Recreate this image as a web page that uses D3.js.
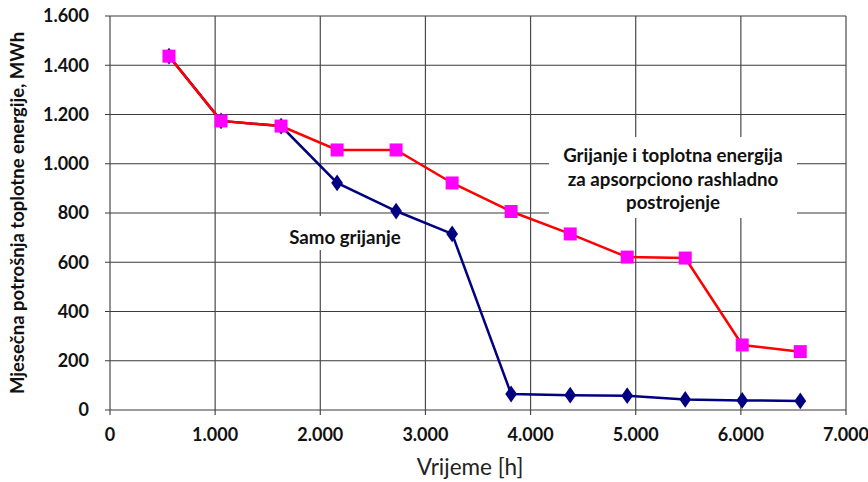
<!DOCTYPE html>
<html><head><meta charset="utf-8">
<script src="https://cdn.jsdelivr.net/npm/d3@7"></script>
<style>body{margin:0;background:#fff}svg{display:block}</style>
</head><body><svg id="c" width="868" height="482"></svg>
<script>
const hours = [561, 1056, 1627, 2160, 2721, 3254, 3815, 4377, 4919, 5471, 6013, 6565];
const heatingOnly = [1437, 1174, 1153, 922, 808, 715, 65, 60, 58, 43, 39, 37];
const heatingAndCooling = [1437, 1174, 1153, 1056, 1056, 922, 806, 715, 621, 617, 264, 237];
const xTicks = [0, 1000, 2000, 3000, 4000, 5000, 6000, 7000];
const yTicks = [0, 200, 400, 600, 800, 1000, 1200, 1400, 1600];
const labelHeating = ["Samo grijanje"];
const labelBoth = ["Grijanje i toplotna energija", "za apsorpciono rashladno", "postrojenje"];
const xTitle = "Vrijeme [h]";
const yTitle = "Mjesečna potrošnja toplotne energije, MWh";

const svg = d3.select("#c");
const L = 110, R = 846, T = 16, B = 410;
const x = d3.scaleLinear().domain([0, 7000]).range([L, R]);
const y = d3.scaleLinear().domain([0, 1600]).range([B, T]);
const fmt = d => d === 0 ? "0" : d3.format(",")(d).replace(/,/g, ".");
const font = "Lato, 'Open Sans', sans-serif";

// grid
const g = svg.append("g");
g.selectAll(".hg").data(yTicks).join("line")
  .attr("x1", L - 5).attr("x2", R).attr("y1", d => y(d)).attr("y2", d => y(d))
  .attr("stroke", "#3a3a3a").attr("stroke-width", 1.2);
g.selectAll(".vg").data(xTicks).join("line")
  .attr("y1", T).attr("y2", B + 5).attr("x1", d => x(d)).attr("x2", d => x(d))
  .attr("stroke", "#4a4a4a").attr("stroke-width", 1.2);

// tick labels
svg.append("g").selectAll("text").data(yTicks).join("text")
  .attr("x", L - 21).attr("y", d => y(d)).attr("dy", "0.36em")
  .attr("text-anchor", "end").attr("font-family", font).attr("font-weight", "bold")
  .attr("font-size", 18).attr("fill", "#111").text(fmt);
svg.append("g").selectAll("text").data(xTicks).join("text")
  .attr("x", d => x(d)).attr("y", B + 31)
  .attr("text-anchor", "middle").attr("font-family", font).attr("font-weight", "bold")
  .attr("font-size", 18).attr("fill", "#111").text(fmt);

// titles
svg.append("text").attr("x", 470).attr("y", 475).attr("text-anchor", "middle")
  .attr("font-family", font).attr("font-size", 22.5).attr("fill", "#222").text(xTitle);
svg.append("text").attr("transform", "translate(24,213) rotate(-90)").attr("text-anchor", "middle")
  .attr("font-family", font).attr("font-weight", "bold").attr("font-size", 18.5).attr("fill", "#111").text(yTitle);

// label boxes
svg.append("rect").attr("x", 549).attr("y", 137).attr("width", 248).attr("height", 81).attr("fill", "#fff");
svg.append("rect").attr("x", 272).attr("y", 216).attr("width", 146).attr("height", 34).attr("fill", "#fff");
svg.append("g").selectAll("text").data(labelBoth).join("text")
  .attr("x", 673).attr("y", (d, i) => 162 + i * 23.5).attr("text-anchor", "middle")
  .attr("font-family", font).attr("font-weight", "bold").attr("font-size", 18.7).attr("fill", "#111").text(d => d);
svg.append("text").attr("x", 345).attr("y", 244).attr("text-anchor", "middle")
  .attr("font-family", font).attr("font-weight", "bold").attr("font-size", 18.7).attr("fill", "#111").text(labelHeating[0]);

// series
const line = d3.line().x((d, i) => x(hours[i])).y(d => y(d));
svg.append("path").datum(heatingOnly).attr("d", line).attr("fill", "none")
  .attr("stroke", "#000080").attr("stroke-width", 2.5);
svg.append("g").selectAll("path").data(heatingOnly).join("path")
  .attr("d", d3.symbol(d3.symbolDiamond, 90)())
  .attr("transform", (d, i) => `translate(${x(hours[i])},${y(d)}) scale(1.15,0.95)`)
  .attr("fill", "#000080");
svg.append("path").datum(heatingAndCooling).attr("d", line).attr("fill", "none")
  .attr("stroke", "#ff0000").attr("stroke-width", 2.5);
svg.append("g").selectAll("rect").data(heatingAndCooling).join("rect")
  .attr("x", (d, i) => x(hours[i]) - 6.5).attr("y", d => y(d) - 6.5)
  .attr("width", 13).attr("height", 13).attr("fill", "#ff00ff");
</script></body></html>
